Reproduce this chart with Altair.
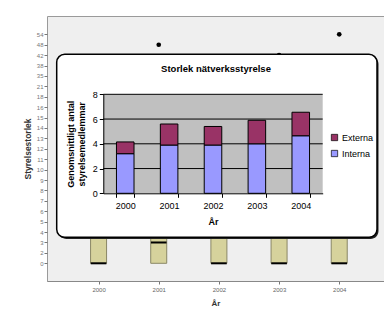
import altair as alt
import pandas as pd

# ---------------- background chart (boxplot, mostly hidden) ----------------
bg_years = [2000, 2001, 2002, 2003, 2004]
y_tick_labels = ["0", "2", "3", "4", "5", "6", "7", "8", "9", "10", "11", "12",
                 "13", "14", "15", "16", "18", "21", "35", "38", "42", "48", "54"]
box_low = ["0", "0", "0", "0", "0"]
box_high = ["6", "6", "6", "6", "6"]      # hidden behind the inset
medians = ["0", "3", "0", "0", "0"]
outlier_years = [2001, 2003, 2004]
outlier_values = ["48", "42", "54"]

# ---------------- inset chart ----------------
inset_title = "Storlek nätverksstyrelse"
inset_years = ["2000", "2001", "2002", "2003", "2004"]
interna = [3.2, 3.9, 3.9, 4.0, 4.65]
externa = [0.95, 1.7, 1.5, 1.9, 1.9]
grid_values = [2, 4, 6, 8]

FONT = "Liberation Sans"
W, H = 337, 265

idx = {v: i for i, v in enumerate(y_tick_labels)}
box_df = pd.DataFrame({"year": bg_years,
                       "lo": [idx[v] for v in box_low],
                       "hi": [idx[v] for v in box_high]})
med_df = pd.DataFrame({"year": bg_years, "m": [idx[v] for v in medians]})
med_df["x0"] = med_df["year"] - 0.13
med_df["x1"] = med_df["year"] + 0.13
out_df = pd.DataFrame({"year": outlier_years, "v": [idx[v] for v in outlier_values]})

xs_bg = alt.Scale(domain=[1999.226, 2004.661], nice=False, zero=False)
ys_bg = alt.Scale(domain=[-1.7, 23.76], nice=False, zero=False)
label_expr = "[" + ",".join("'%s'" % s for s in y_tick_labels) + "][datum.value]"

ax_bg_x = alt.Axis(orient="bottom", values=bg_years, format="d", title="År",
                   labelFont=FONT, labelFontSize=6, labelColor="#666",
                   tickColor="#777", tickSize=3, domainColor="#888", labelPadding=2,
                   titleFont=FONT, titleFontSize=8, titleFontWeight="bold",
                   titleColor="#333", titlePadding=7, grid=False)
ax_bg_y = alt.Axis(orient="left", values=list(range(len(y_tick_labels))),
                   labelExpr=label_expr, title="Styrelsestorlek",
                   labelFont=FONT, labelFontSize=6, labelColor="#777",
                   tickColor="#777", tickSize=3, domain=False, labelPadding=1,
                   titleFont=FONT, titleFontSize=8.5, titleFontWeight="bold",
                   titleColor="#333", titlePadding=4, grid=False)

bx = alt.Chart(box_df).mark_bar(size=16, color="#d6d29c", stroke="#8a8766", strokeWidth=1).encode(
    x=alt.X("year:Q", scale=xs_bg, axis=ax_bg_x),
    y=alt.Y("lo:Q", scale=ys_bg, axis=ax_bg_y),
    y2="hi:Q",
)
med = alt.Chart(med_df).mark_rule(color="black", strokeWidth=2).encode(
    x=alt.X("x0:Q", scale=xs_bg, axis=ax_bg_x), x2="x1:Q",
    y=alt.Y("m:Q", scale=ys_bg, axis=ax_bg_y))
outl = alt.Chart(out_df).mark_circle(size=22, color="black", opacity=1).encode(
    x=alt.X("year:Q", scale=xs_bg, axis=ax_bg_x),
    y=alt.Y("v:Q", scale=ys_bg, axis=ax_bg_y))
bg = alt.layer(bx, med, outl)

one = pd.DataFrame({"a": [0]})
shadow = alt.Chart(one).mark_rect(color="#222", cornerRadius=8).encode(
    x=alt.value(11.5), x2=alt.value(331.5), y=alt.value(40), y2=alt.value(223))
frame = alt.Chart(one).mark_rect(fill="white", stroke="black", strokeWidth=1.5, cornerRadius=8).encode(
    x=alt.value(9.7), x2=alt.value(330), y=alt.value(38.3), y2=alt.value(221.3))
ttl = alt.Chart(one).mark_text(text=inset_title, font=FONT, fontSize=9.5, fontWeight="bold",
                               color="black").encode(x=alt.value(169), y=alt.value(53))

# inset data
bar_df = pd.DataFrame({
    "year": inset_years * 2,
    "part": ["Interna"] * 5 + ["Externa"] * 5,
    "value": interna + externa,
    "ord": [0] * 5 + [1] * 5,
})
grid_df = pd.DataFrame({"g": grid_values})

ys_in = alt.Scale(domain=[0, 8], range=[177.3, 78.3], nice=False, zero=True)
xs_in = alt.Scale(domain=inset_years, range=[56.3, 275.7], paddingInner=0.6, paddingOuter=0.3)

ax_in_y = alt.Axis(orient="left", offset=-56.3, zindex=1, values=[0, 2, 4, 6, 8],
                   title=["Genomsnittligt antal", "styrelsemedlemmar"],
                   labelFont=FONT, labelFontSize=9, labelColor="black",
                   tickColor="black", tickSize=4, domainColor="black", labelPadding=2,
                   titleFont=FONT, titleFontSize=9, titleFontWeight="bold",
                   titleColor="black", titlePadding=6, grid=False)
ax_in_x = alt.Axis(orient="bottom", offset=-87.7, zindex=1, title="År", labelAngle=0,
                   labelFont=FONT, labelFontSize=9, labelColor="black",
                   tickColor="black", tickSize=4, tickBand="extent", domainColor="black",
                   labelPadding=4, titleFont=FONT, titleFontSize=9,
                   titleFontWeight="bold", titleColor="black", titlePadding=7, grid=False)

plotbg = alt.Chart(one).mark_rect(color="#c0c0c0").encode(
    x=alt.value(56.3), x2=alt.value(275.7), y=alt.value(78.3), y2=alt.value(177.3))
grid = alt.Chart(grid_df).mark_rule(color="black", strokeWidth=1).encode(
    y=alt.Y("g:Q", scale=ys_in, axis=ax_in_y), x=alt.value(56.3), x2=alt.value(275.7))
bars = alt.Chart(bar_df).mark_bar(stroke="black", strokeWidth=1).encode(
    x=alt.X("year:N", scale=xs_in, sort=inset_years, axis=ax_in_x),
    y=alt.Y("value:Q", stack="zero", scale=ys_in, axis=ax_in_y),
    color=alt.Color("part:N",
                    scale=alt.Scale(domain=["Externa", "Interna"], range=["#993366", "#9999ff"]),
                    legend=alt.Legend(title=None, orient="none", legendX=283, legendY=117,
                                      symbolType="square", symbolSize=40,
                                      symbolStrokeColor="black", symbolStrokeWidth=0.7,
                                      labelFont=FONT, labelFontSize=9, labelColor="black",
                                      rowPadding=5, labelOffset=3)),
    order=alt.Order("ord:Q"),
)
inset = alt.layer(plotbg, grid, bars)

chart = alt.layer(bg, shadow, frame, ttl, inset).resolve_scale(
    x="independent", y="independent"
).properties(
    width=W, height=H,
    autosize=alt.AutoSizeParams(type="none"),
    padding={"left": 39, "top": 8, "right": 0, "bottom": 27},
    background="white",
).configure_view(fill="#efefef", stroke="#9a9a9a", strokeWidth=1)

chart.save("out.html", embed_options={"renderer": "svg", "actions": False})
